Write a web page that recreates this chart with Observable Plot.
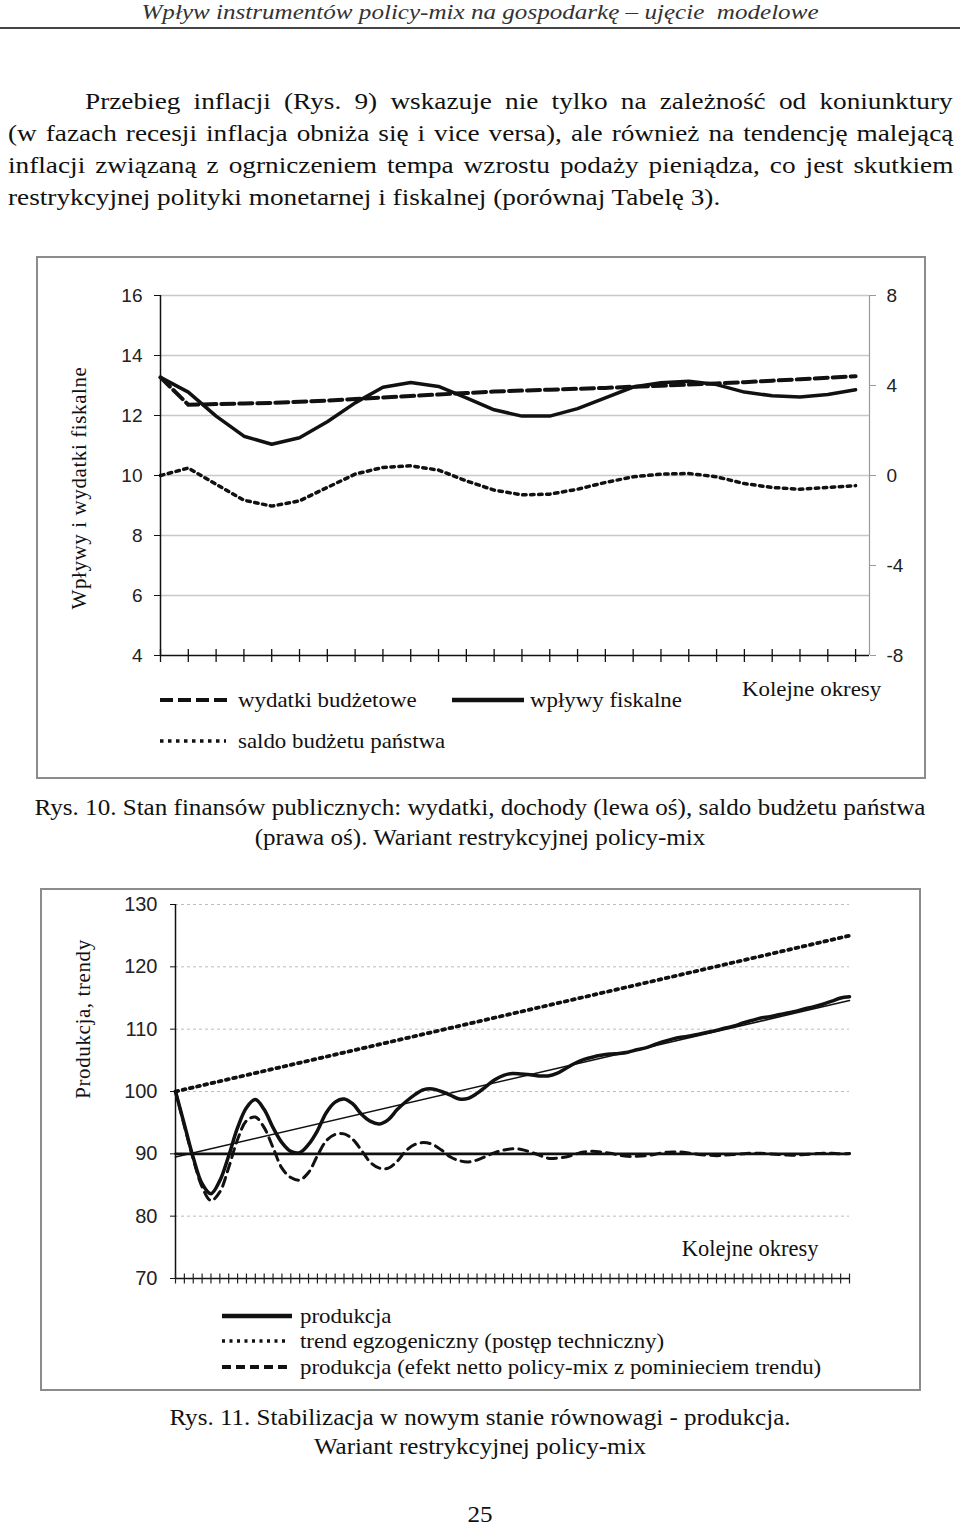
<!DOCTYPE html>
<html><head><meta charset="utf-8">
<script src="https://cdn.jsdelivr.net/npm/d3@7"></script>
<script src="https://cdn.jsdelivr.net/npm/@observablehq/plot@0.6"></script>
<style>
body{margin:0;background:#fff;}
#page{position:relative;width:960px;height:1528px;overflow:hidden;font-family:"Liberation Serif","Times New Roman",serif;color:#111;background:#fff;}
.header{position:absolute;left:480px;top:0;white-space:nowrap;font-style:italic;font-size:22px;line-height:24px;color:#333;transform:translateX(-50%) scaleX(1.14);}
.rule{position:absolute;left:0;top:27px;width:960px;height:2px;background:#444;}
.pl{position:absolute;font-size:23.5px;line-height:32px;white-space:normal;transform:scaleX(1.16);transform-origin:0 0;}
.just{text-align:justify;text-align-last:justify;}
.frame{position:absolute;box-sizing:border-box;border:2px solid #8c8c8c;}
.cap{position:absolute;left:480px;font-size:23px;line-height:30px;white-space:nowrap;transform:translateX(-50%) scaleX(1.09);}
.leg{position:absolute;font-size:21px;line-height:24px;white-space:nowrap;color:#111;transform:scaleX(1.09);transform-origin:0 0;}
.ytitle{position:absolute;font-size:21px;white-space:nowrap;letter-spacing:0.6px;transform:translate(-50%,-50%) rotate(-90deg);}
.sw{position:absolute;overflow:visible;}
</style>
</head><body>
<div id="page">
  <div class="header">Wpływ instrumentów policy-mix na gospodarkę – ujęcie&nbsp; modelowe</div>
  <div class="rule"></div>
  <div class="pl just" style="left:85px;width:748px;top:85px;">Przebieg inflacji (Rys. 9) wskazuje nie tylko na zależność od koniunktury</div>
  <div class="pl just" style="left:8px;width:815px;top:117px;">(w fazach recesji inflacja obniża się i vice versa), ale również na tendencję malejącą</div>
  <div class="pl just" style="left:8px;width:815px;top:149px;">inflacji związaną z ogrniczeniem tempa wzrostu podaży pieniądza, co jest skutkiem</div>
  <div class="pl" style="left:8px;width:815px;top:181px;">restrykcyjnej polityki monetarnej i fiskalnej (porównaj Tabelę 3).</div>

  <div class="frame" id="frame1" style="left:36px;top:256px;width:890px;height:523px;"></div>
  <div class="cap" style="top:793px;">Rys. 10. Stan finansów publicznych: wydatki, dochody (lewa oś), saldo budżetu państwa</div>
  <div class="cap" style="top:823px;">(prawa oś). Wariant restrykcyjnej policy-mix</div>

  <div class="frame" id="frame2" style="left:40px;top:888px;width:881px;height:503px;"></div>
  <div class="cap" style="top:1403px;">Rys. 11. Stabilizacja w nowym stanie równowagi - produkcja.</div>
  <div class="cap" style="top:1432px;">Wariant restrykcyjnej policy-mix</div>
  <div class="cap" style="top:1500px;">25</div>
</div>
<script>
// ---------- Chart 1 data (Rys. 10) ----------
const periods1 = d3.range(26);
const wplywyFiskalne = [13.27, 12.78, 11.98, 11.31, 11.04, 11.26, 11.79, 12.42, 12.94, 13.10, 12.97, 12.59, 12.19, 11.98, 11.98, 12.23, 12.59, 12.95, 13.09, 13.14, 13.03, 12.78, 12.66, 12.62, 12.70, 12.86];
const wydatkiBudzetowe = [13.27, 12.36, 12.38, 12.40, 12.42, 12.46, 12.50, 12.55, 12.60, 12.65, 12.70, 12.75, 12.80, 12.83, 12.86, 12.89, 12.92, 12.96, 12.99, 13.03, 13.07, 13.11, 13.16, 13.21, 13.26, 13.31];
const saldoBudzetu = [0.0, 0.33, -0.39, -1.10, -1.36, -1.13, -0.53, 0.06, 0.36, 0.43, 0.24, -0.24, -0.65, -0.86, -0.83, -0.61, -0.31, -0.06, 0.06, 0.09, -0.06, -0.36, -0.53, -0.61, -0.53, -0.45];
const leftTicks1 = [4, 6, 8, 10, 12, 14, 16];
const rightTicks1 = [-8, -4, 0, 4, 8];
const legend1 = ["wydatki budżetowe", "wpływy fiskalne", "saldo budżetu państwa"];

// ---------- Chart 2 data (Rys. 11) ----------
const periods2 = d3.range(77);
const produkcja = [100, 94.7, 89.4, 85.2, 83.6, 85.7, 89.7, 94.2, 97.4, 98.7, 97.1, 94.2, 91.8, 90.4, 90.2, 91.5, 93.7, 96.6, 98.3, 98.8, 98.0, 96.3, 95.2, 94.8, 95.5, 97.1, 98.4, 99.5, 100.3,
  100.4, 100.0, 99.4, 98.8, 98.9, 99.7, 100.8, 101.9,
  102.6, 102.9, 102.8, 102.7, 102.5, 102.5, 102.9, 103.7, 104.5, 105.1, 105.5, 105.8, 106.0, 106.1, 106.3, 106.7, 107.0, 107.5, 108.0, 108.4, 108.7, 108.9, 109.2, 109.5, 109.8, 110.2, 110.5, 111.0, 111.4, 111.8, 112.0, 112.3, 112.6, 112.9, 113.3, 113.6, 114.0, 114.5, 115.0, 115.2];
const produkcjaNetto = [100, 94.5, 89.2, 84.7, 82.5, 83.9, 87.8, 92.3, 95.3, 95.9, 94.2, 91.0, 87.7, 86.2, 85.8, 87.0, 89.7, 92.1, 93.1, 93.2, 92.3, 90.5, 88.6, 87.7, 87.7, 88.8, 90.5, 91.5, 91.8, 91.5, 90.6,
  89.5, 88.9, 88.7, 89.0, 89.6, 90.2, 90.6,
  90.8, 90.7, 90.3, 89.8, 89.3, 89.3, 89.5, 89.9, 90.3, 90.4, 90.3, 90.1, 89.8, 89.6, 89.6, 89.7, 89.9, 90.2, 90.3, 90.3, 90.1, 89.9, 89.8, 89.7, 89.8, 89.9, 90.0, 90.1, 90.1, 90.0, 89.9, 89.8, 89.8, 89.9, 90.0, 90.1, 90.1, 90.0, 90.05];
const trendPeriods = [0, 76];
const trendEgzogeniczny = [100, 125];
const trendProdukcji = [89.5, 114.6];
const trendNetto = [90, 90];
const leftTicks2 = [70, 80, 90, 100, 110, 120, 130];
const legend2 = ["produkcja", "trend egzogeniczny (postęp techniczny)", "produkcja (efekt netto policy-mix z pominieciem trendu)"];

// ---------- helpers ----------
const vtick = {draw(ctx, size) { const r = Math.sqrt(size / Math.PI); ctx.moveTo(0, -r); ctx.lineTo(0, r); }};
const page = document.getElementById("page");
const serif = "'Liberation Serif','Times New Roman',serif";
const sans = "'Liberation Sans',Arial,sans-serif";

function place(svg, left, top) {
  svg.style.position = "absolute";
  svg.style.left = left + "px";
  svg.style.top = top + "px";
  svg.style.background = "transparent";
  page.appendChild(svg);
}
function swatch(x1, x2, y, width, dash) {
  const s = d3.select(page).append("svg").attr("class", "sw")
    .style("left", x1 + "px").style("top", (y - 10) + "px")
    .attr("width", x2 - x1).attr("height", 20);
  s.append("line").attr("x1", 0).attr("x2", x2 - x1).attr("y1", 10).attr("y2", 10)
    .attr("stroke", "#111").attr("stroke-width", width).attr("stroke-dasharray", dash || null);
}
function label(text, x, y) {
  d3.select(page).append("div").attr("class", "leg")
    .style("left", x + "px").style("top", (y - 12) + "px").text(text);
}

// ---------- Chart 1 ----------
const data1 = periods1.map((t, i) => ({t, wplywy: wplywyFiskalne[i], wydatki: wydatkiBudzetowe[i], saldo: saldoBudzetu[i]}));
const toLeft = v => 10 + v * 0.75;      // right axis (saldo) -> left axis units
const fromLeft = v => String(Math.round((v - 10) / 0.75));

const chart1 = Plot.plot({
  width: 886, height: 420,
  marginLeft: 122, marginRight: 55, marginTop: 37, marginBottom: 23,
  x: {type: "linear", domain: [0, 25.5], axis: null},
  y: {domain: [4, 16], axis: null},
  style: {fontFamily: sans, fontSize: "19px", color: "#222", background: "transparent", overflow: "visible"},
  marks: [
    Plot.gridY(leftTicks1.slice(1), {stroke: "#c8c8c8", strokeOpacity: 1, strokeWidth: 1.5}),
    Plot.axisY(leftTicks1, {anchor: "left", tickSize: 6, tickPadding: 12, stroke: "#111", strokeOpacity: 1, fontSize: 19, fill: "#222"}),
    Plot.axisY(rightTicks1.map(toLeft), {anchor: "right", tickSize: 6, tickPadding: 11, tickFormat: fromLeft, stroke: "#999", strokeOpacity: 1, fontSize: 19, fill: "#222"}),
    Plot.ruleX([25.5], {stroke: "#9a9a9a", strokeWidth: 1.2}),
    Plot.ruleX([0], {stroke: "#111", strokeWidth: 1.5}),
    Plot.ruleY([4], {stroke: "#111", strokeWidth: 1.5}),
    Plot.dot(periods1, {x: d => d, y: 4, symbol: vtick, r: 6.5, stroke: "#111", strokeWidth: 1.3}),
    Plot.line(data1, {x: "t", y: "wplywy", stroke: "#111", strokeWidth: 3.5}),
    Plot.line(data1, {x: "t", y: "wydatki", stroke: "#111", strokeWidth: 4, strokeDasharray: "13,5"}),
    Plot.line(data1, {x: "t", y: d => toLeft(d.saldo), stroke: "#111", strokeWidth: 3.5, strokeDasharray: "3.5,4.5"})
  ]
});
place(chart1, 38, 258);

d3.select(page).append("div").attr("class", "ytitle")
  .style("left", "79px").style("top", "488px").style("font-family", serif).text("Wpływy i wydatki fiskalne");
swatch(160, 230, 700, 4, "13,5");
label(legend1[0], 238, 700);
swatch(452, 524, 700, 4.5);
label(legend1[1], 530, 700);
swatch(160, 226, 741, 3.5, "3.5,4.5");
label(legend1[2], 238, 741);
label("Kolejne okresy", 742, 689);

// ---------- Chart 2 ----------
const data2 = periods2.map((t, i) => ({t, produkcja: produkcja[i], netto: produkcjaNetto[i]}));
const trends2 = trendPeriods.map((t, i) => ({t, egz: trendEgzogeniczny[i], prod: trendProdukcji[i], netto: trendNetto[i]}));

const chart2 = Plot.plot({
  width: 877, height: 410,
  marginLeft: 133, marginRight: 70, marginTop: 14, marginBottom: 22,
  x: {type: "linear", domain: [0, 76], axis: null},
  y: {domain: [70, 130], axis: null},
  style: {fontFamily: sans, fontSize: "20px", color: "#222", background: "transparent", overflow: "visible"},
  marks: [
    Plot.gridY(leftTicks2.slice(1), {stroke: "#bdbdbd", strokeOpacity: 1, strokeWidth: 1, strokeDasharray: "3,3"}),
    Plot.axisY(leftTicks2, {anchor: "left", tickSize: 5, tickPadding: 13, stroke: "#111", strokeOpacity: 1, fontSize: 20, fill: "#222"}),
    Plot.ruleX([0], {stroke: "#111", strokeWidth: 1.5}),
    Plot.ruleY([70], {stroke: "#111", strokeWidth: 1.5}),
    Plot.dot(periods2, {x: d => d, y: 70, symbol: vtick, r: 5, stroke: "#222", strokeWidth: 1.2}),
    Plot.text(["Kolejne okresy"], {frameAnchor: "bottom-right", textAnchor: "end", dx: -31, dy: -23, fontSize: 22.5, fontFamily: serif, fill: "#111"}),
    Plot.line(trends2, {x: "t", y: "egz", stroke: "#111", strokeWidth: 3.8, strokeDasharray: "2.8,4.6"}),
    Plot.line(trends2, {x: "t", y: "prod", stroke: "#111", strokeWidth: 1.6}),
    Plot.line(trends2, {x: "t", y: "netto", stroke: "#111", strokeWidth: 2.6}),
    Plot.line(data2, {x: "t", y: "netto", stroke: "#111", strokeWidth: 3, strokeDasharray: "9,6", curve: "catmull-rom"}),
    Plot.line(data2, {x: "t", y: "produkcja", stroke: "#111", strokeWidth: 3.5, curve: "catmull-rom"})
  ]
});
place(chart2, 42, 890);

d3.select(page).append("div").attr("class", "ytitle")
  .style("left", "83px").style("top", "1019px").style("font-family", serif).text("Produkcja, trendy");
swatch(222, 292, 1316, 4.5);
label(legend2[0], 300, 1316);
swatch(222, 286, 1341, 3.5, "3,4.5");
label(legend2[1], 300, 1341);
swatch(222, 292, 1367, 4, "9,5");
label(legend2[2], 300, 1367);
</script>
</body></html>
